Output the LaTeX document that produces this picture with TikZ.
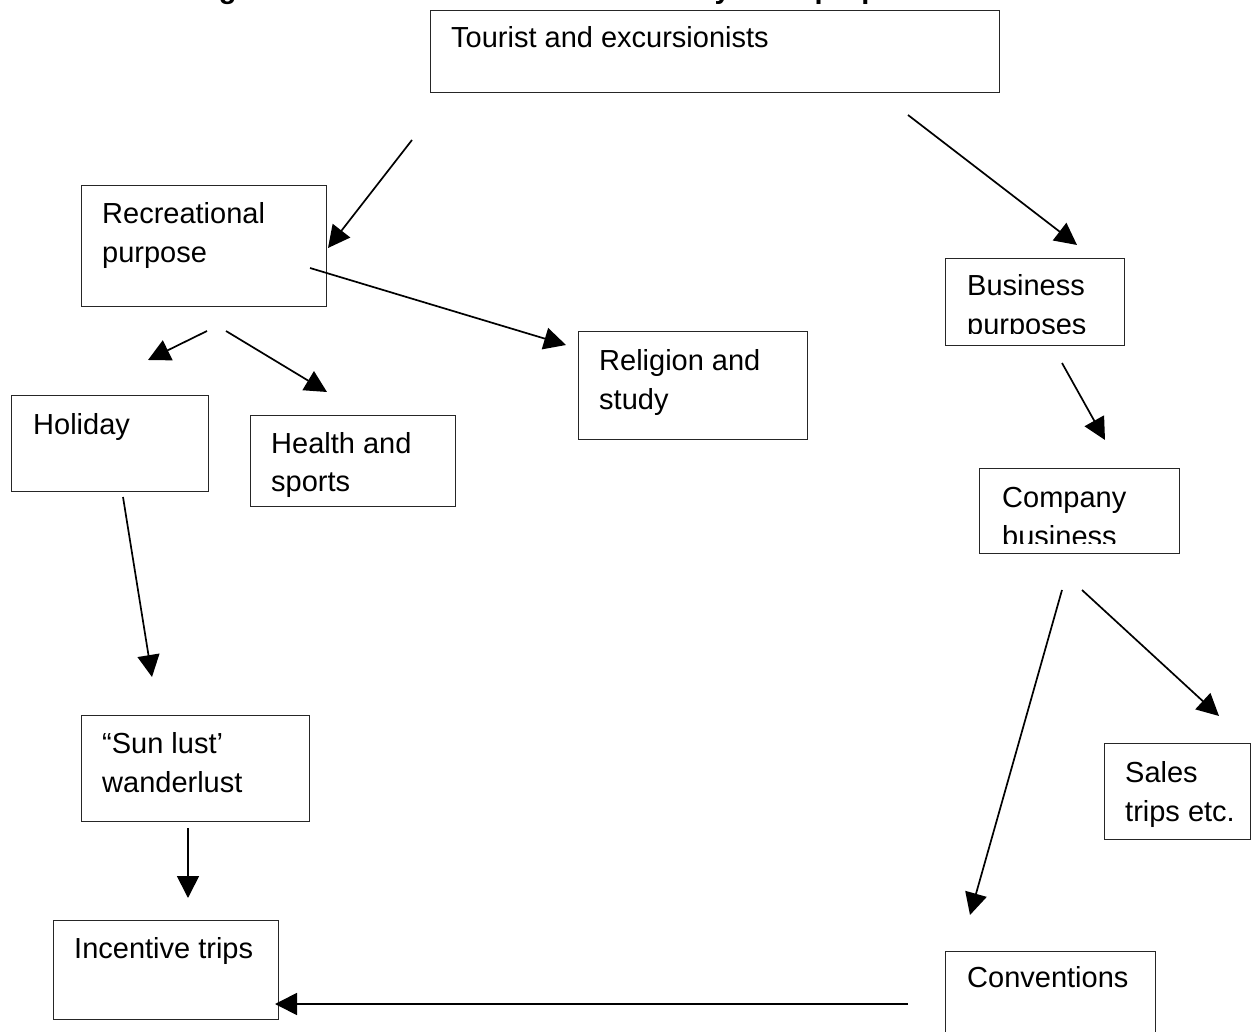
\documentclass[tikz,border=0pt]{standalone}
\usepackage{fontspec}
\setmainfont{Liberation Sans}
\usetikzlibrary{arrows.meta}
\newcommand\mytwolines[2]{\vtop{\hbox{#1}\hbox{#2}}}
\begin{document}
\begin{tikzpicture}[x=1pt,y=-1pt,
  box/.style={draw=black!85, line width=1.3pt, inner sep=0pt, anchor=north west},
  lbl/.style={inner sep=0pt, anchor=base west, font=\fontsize{29}{39}\selectfont},
  arr/.style={line width=1.7pt, -{Triangle[length=22pt,width=22pt]}}]
\useasboundingbox (0,0) rectangle (1251,1032);
\fill[white] (0,0) rectangle (1251,1032);
% cut-off title
\begin{scope}
\clip (0,0) rectangle (1251,1032);
\node[inner sep=0pt, anchor=base west, font=\fontsize{29}{35}\selectfont\bfseries] (title) at (193,-1) {Figure 1.1: Classification of tourists by main purpose};
\end{scope}
% boxes
\node[box, minimum width=569pt, minimum height=82pt] (tour) at (430,10) {};
\node[box, minimum width=245pt, minimum height=121pt] (rec) at (81,185) {};
\node[box, minimum width=179pt, minimum height=87pt] (bus) at (945,258) {};
\node[box, minimum width=200pt, minimum height=85pt] (comp) at (979,468) {};
\node[box, minimum width=229pt, minimum height=108pt] (rel) at (578,331) {};
\node[box, minimum width=197pt, minimum height=96pt] (hol) at (11,395) {};
\node[box, minimum width=205pt, minimum height=91pt] (hea) at (250,415) {};
\node[box, minimum width=228pt, minimum height=106pt] (sun) at (81,715) {};
\node[box, minimum width=146pt, minimum height=96pt] (sal) at (1104,743) {};
\node[box, minimum width=225pt, minimum height=99pt] (inc) at (53,920) {};
\node[box, minimum width=210pt, minimum height=100pt] (conv) at (945,951) {};
% labels
\node[lbl] (tour-t) at (451,48) {Tourist and excursionists};
\node[lbl] (rec-t) at (102,224) {\mytwolines{Recreational}{purpose}};
\begin{scope}
\clip (940,250) rectangle (1130,334);
\node[lbl] (bus-t) at (967,296) {\mytwolines{Business}{purposes}};
\end{scope}
\begin{scope}
\clip (975,460) rectangle (1185,543);
\node[lbl] (comp-t) at (1002,507) {\mytwolines{Company}{business}};
\end{scope}
\node[lbl] (rel-t) at (599,371) {\mytwolines{Religion and}{study}};
\node[lbl] (hol-t) at (33,434) {Holiday};
\node[lbl] (hea-t) at (271,453) {\mytwolines{Health and}{sports}};
\node[lbl] (sun-t) at (102,753) {\mytwolines{“Sun lust’}{wanderlust}};
\node[lbl] (sal-t) at (1125,782) {\mytwolines{Sales}{trips etc.}};
\node[lbl] (inc-t) at (74,958) {Incentive trips};
\node[lbl] (conv-t) at (967,987) {Conventions};
% connector end points
\coordinate (a1) at (412,140); \coordinate (a2) at (328,248);
\coordinate (b1) at (908,115); \coordinate (b2) at (1077,245);
\coordinate (c1) at (310,268); \coordinate (c2) at (566,345);
\coordinate (d1) at (207,331); \coordinate (d2) at (148,360);
\coordinate (e1) at (226,331); \coordinate (e2) at (327,392);
\coordinate (f1) at (123,497); \coordinate (f2) at (152,677);
\coordinate (g1) at (1062,363); \coordinate (g2) at (1105,440);
\coordinate (h1) at (1062,590); \coordinate (h2) at (970,915);
\coordinate (i1) at (1082,590); \coordinate (i2) at (1219,716);
\coordinate (j1) at (188,828); \coordinate (j2) at (188,898);
\coordinate (k1) at (908,1004); \coordinate (k2) at (275,1004);
% connectors
\draw[arr] (a1) -- (a2);
\draw[arr] (b1) -- (b2);
\draw[arr] (c1) -- (c2);
\draw[arr] (d1) -- (d2);
\draw[arr] (e1) -- (e2);
\draw[arr] (f1) -- (f2);
\draw[arr] (g1) -- (g2);
\draw[arr] (h1) -- (h2);
\draw[arr] (i1) -- (i2);
\draw[arr] (j1) -- (j2);
\draw[arr] (k1) -- (k2);
\end{tikzpicture}
\end{document}
